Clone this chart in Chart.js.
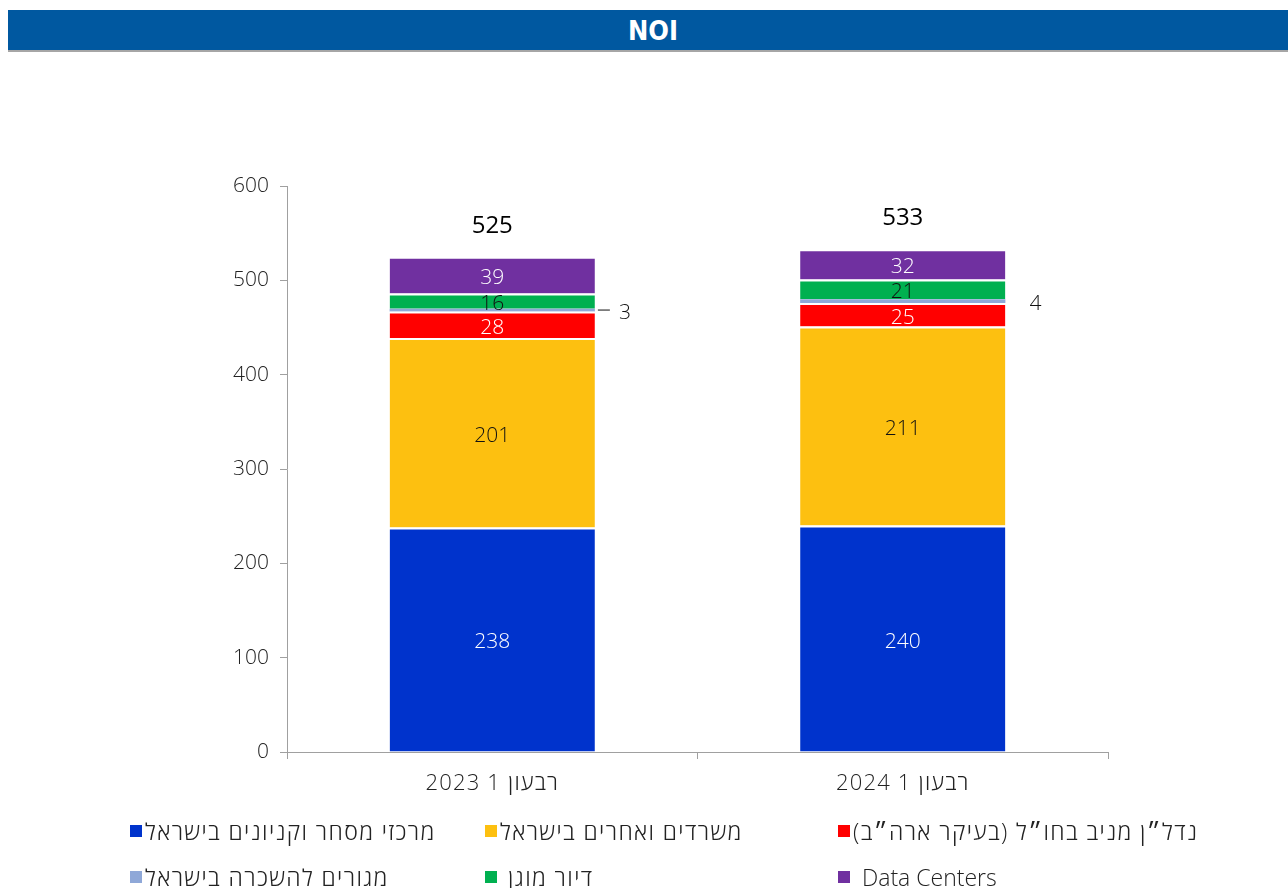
<!DOCTYPE html>
<html lang="he">
<head>
<meta charset="utf-8">
<script src="https://cdn.jsdelivr.net/npm/chart.js@4"></script>
<style>
  body { margin: 0; background: #fff; font-family: "Open Sans", "DejaVu Sans", sans-serif; }
  #wrap { position: relative; width: 1288px; height: 888px; overflow: hidden; }
  #titulo {
    position: absolute; left: 8px; top: 10px; width: 1280px; height: 40px;
    background: #0058a0; border-bottom: 2px solid #a6a6a6;
    color: #fff; font: bold 27px "Liberation Sans Narrow", "DejaVu Sans Condensed", sans-serif;
    text-align: center; line-height: 42px; text-indent: 10px;
  }
  #grafico { position: absolute; left: 0; top: 0; }
  .leyenda-item { position: absolute; display: flex; align-items: center; font-size: 23px; font-weight: 300; color: #222; white-space: nowrap; }
  .leyenda-item .caja { width: 12px; height: 12px; margin-right: 3px; }
  .leyenda-item .heb { letter-spacing: 1.4px; }
</style>
</head>
<body>
<div id="wrap">
  <div id="titulo">NOI</div>
  <canvas id="grafico" width="1288" height="888"></canvas>
  <div id="leyenda"></div>
</div>
<script>
// Datos
const categorias = ['רבעון 1 2023', 'רבעון 1 2024'];
const series = [
  'מרכזי מסחר וקניונים בישראל',
  'משרדים ואחרים בישראל',
  'נדל\u05F4ן מניב בחו\u05F4ל (בעיקר ארה\u05F4ב)',
  'מגורים להשכרה בישראל',
  'דיור מוגן',
  'Data Centers'
];
const mercazim = [238, 240];
const misradim = [201, 211];
const chul = [28, 25];
const megurim = [3, 4];
const diur = [16, 21];
const dataCenters = [39, 32];
const totales = [525, 533];
const ticksY = [0, 100, 200, 300, 400, 500, 600];

const colores = ['#0033cc', '#fdc010', '#ff0000', '#8fa8d8', '#00b050', '#7030a0'];
const colorTexto = ['#fff', '#111', '#fff', '#111', '#111', '#fff'];
const valores = [mercazim, misradim, chul, megurim, diur, dataCenters];

const FUENTE = '"Open Sans", "DejaVu Sans", sans-serif';

// Etiquetas dentro de las barras, totales y categorias
const etiquetasPlugin = {
    id: 'etiquetas',
    afterDatasetsDraw(chart) {
        const ctx = chart.ctx;
        ctx.save();
        ctx.font = '300 21px ' + FUENTE;
        ctx.textAlign = 'center';
        ctx.textBaseline = 'middle';
        chart.data.datasets.forEach((ds, i) => {
            const meta = chart.getDatasetMeta(i);
            meta.data.forEach((bar, j) => {
                const v = ds.data[j];
                const yc = (bar.y + bar.base) / 2;
                if (i === 3) {
                    // valor chico: afuera a la derecha
                    const derecha = bar.x + bar.width / 2;
                    ctx.fillStyle = '#111';
                    ctx.textAlign = 'left';
                    ctx.fillText(v, derecha + 24, yc + 3);
                    if (j === 0) {
                        ctx.strokeStyle = '#111';
                        ctx.lineWidth = 1;
                        ctx.beginPath();
                        ctx.moveTo(derecha + 3, yc);
                        ctx.lineTo(derecha + 15, yc);
                        ctx.stroke();
                    }
                    ctx.textAlign = 'center';
                    return;
                }
                ctx.fillStyle = colorTexto[i];
                ctx.fillText(v, bar.x, yc + 3);
            });
        });
        // totales
        const ultima = chart.getDatasetMeta(chart.data.datasets.length - 1);
        ctx.fillStyle = '#000';
        ctx.font = '500 24px ' + FUENTE;
        ultima.data.forEach((bar, j) => {
            ctx.fillText(totales[j], bar.x, bar.y - 31);
        });
        // categorias
        const x = chart.scales.x;
        ctx.fillStyle = '#222';
        ctx.font = '300 22px ' + FUENTE;
        ctx.letterSpacing = '1.2px';
        categorias.forEach((c, i) => {
            ctx.fillText(c, x.getPixelForTick(i), chart.chartArea.bottom + 32);
        });
        ctx.restore();
    }
};

const datasets = series.map((nombre, i) => ({
    label: nombre,
    data: valores[i],
    backgroundColor: colores[i],
    borderColor: '#ffffff',
    borderWidth: i === 3 ? 0 : { top: 2 },
    borderSkipped: false,
    categoryPercentage: 1,
    barPercentage: 0.5
}));

new Chart(document.getElementById('grafico'), {
    type: 'bar',
    data: { labels: categorias, datasets: datasets },
    plugins: [etiquetasPlugin],
    options: {
        responsive: false,
        animation: false,
        layout: { padding: { top: 186, right: 180, bottom: 0, left: 0 } },
        plugins: {
            legend: { display: false },
            tooltip: { enabled: false }
        },
        scales: {
            x: {
                stacked: true,
                offset: true,
                afterFit: s => { s.height = 136; },
                grid: { display: true, drawOnChartArea: false, offset: true, tickLength: 7, color: '#a0a0a0' },
                border: { color: '#a0a0a0', width: 1 },
                ticks: { display: false }
            },
            y: {
                stacked: true,
                min: 0,
                max: 600,
                afterFit: s => { s.width = 287; },
                afterBuildTicks: s => { s.ticks = ticksY.map(v => ({ value: v })); },
                grid: { display: true, drawOnChartArea: false, tickLength: 7, color: '#a0a0a0' },
                border: { color: '#a0a0a0', width: 1 },
                ticks: { color: '#222', font: { size: 21, weight: 300, family: FUENTE }, padding: 11 }
            }
        }
    }
});

// Leyenda (3 columnas, 2 filas)
const leyenda = document.getElementById('leyenda');
const posX = [130, 485, 838];
const posY = [815, 861];
series.forEach((nombre, i) => {
    const item = document.createElement('div');
    item.className = 'leyenda-item';
    item.style.left = posX[i % 3] + 'px';
    item.style.top = posY[Math.floor(i / 3)] + 'px';
    const caja = document.createElement('span');
    caja.className = 'caja';
    caja.style.background = colores[i];
    const txt = document.createElement('span');
    const latino = /[a-z]/i.test(nombre);
    txt.dir = latino ? 'ltr' : 'rtl';
    if (!latino) txt.className = 'heb';
    txt.textContent = nombre;
    if (i === 4 || i === 5) caja.style.marginRight = (i === 4 ? 11 : 12) + 'px';
    item.appendChild(caja);
    item.appendChild(txt);
    leyenda.appendChild(item);
});
</script>
</body>
</html>
